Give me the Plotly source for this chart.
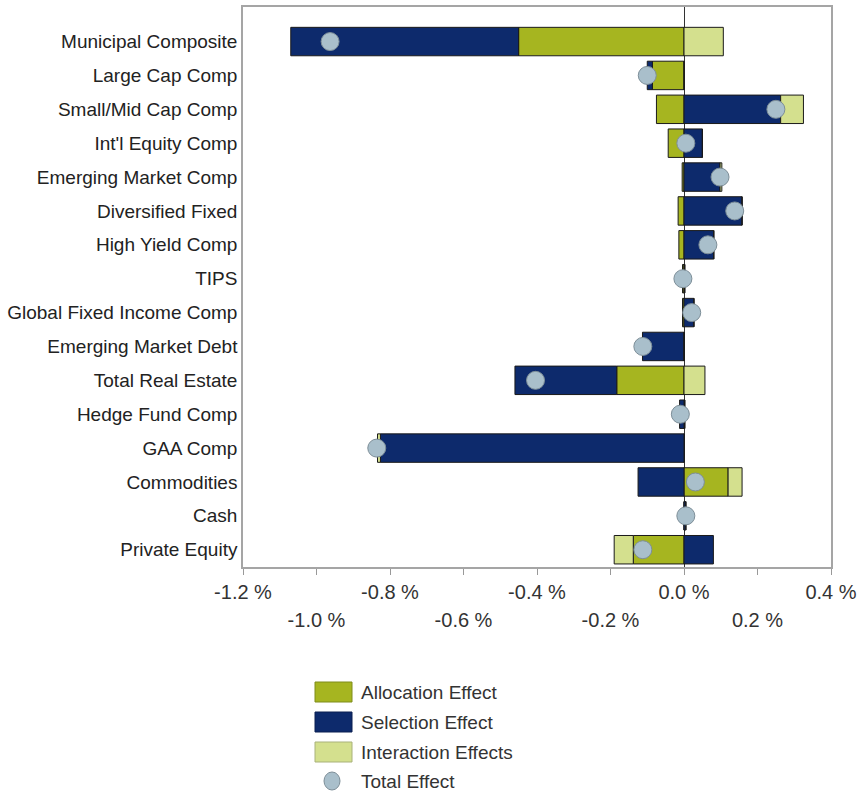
import plotly.graph_objects as go

categories = ["Municipal Composite", "Large Cap Comp", "Small/Mid Cap Comp", "Int'l Equity Comp",
              "Emerging Market Comp", "Diversified Fixed", "High Yield Comp", "TIPS",
              "Global Fixed Income Comp", "Emerging Market Debt", "Total Real Estate",
              "Hedge Fund Comp", "GAA Comp", "Commodities", "Cash", "Private Equity"]

allocation = [-0.450, -0.086, -0.075, -0.043, -0.005, -0.016, -0.014, -0.004,
              -0.004, 0.000, -0.183, 0.002, 0.000, 0.120, 0.000, -0.138]
selection = [-0.620, -0.014, 0.263, 0.050, 0.098, 0.158, 0.081, 0.002,
             0.027, -0.113, -0.277, -0.012, -0.826, -0.125, 0.005, 0.080]
interaction = [0.107, 0.000, 0.062, 0.000, 0.005, 0.000, 0.000, 0.000,
               0.000, 0.000, 0.057, 0.000, -0.008, 0.038, 0.000, -0.052]
total = [-0.963, -0.100, 0.250, 0.005, 0.098, 0.138, 0.065, -0.003,
         0.021, -0.112, -0.404, -0.010, -0.836, 0.031, 0.005, -0.112]

tick_vals = [-1.2, -1.0, -0.8, -0.6, -0.4, -0.2, 0.0, 0.2, 0.4]
tick_text = ["-1.2 %", "-1.0 %", "-0.8 %", "-0.6 %", "-0.4 %", "-0.2 %", "0.0 %", "0.2 %", "0.4 %"]

series_names = ["Allocation Effect", "Selection Effect", "Interaction Effects"]
total_name = "Total Effect"

colors = {"Allocation Effect": "#A6B520", "Selection Effect": "#0D2A6C", "Interaction Effects": "#D4E08E"}
border_colors = {"Allocation Effect": "#7F8C1A", "Selection Effect": "#0A1F50", "Interaction Effects": "#A9B27A"}
marker_fill = "#A9BFCB"
marker_line = "#7D8E98"

W, H = 858, 793
ML, MR, MT, MB = 243, 27, 7, 226
PW, PH = W - ML - MR, H - MT - MB

fig = go.Figure()
for name, vals in zip(series_names, [allocation, selection, interaction]):
    fig.add_trace(go.Bar(
        name=name, y=categories, x=vals, orientation="h",
        marker=dict(color=colors[name], line=dict(color="#1A1A1A", width=1)),
        showlegend=False,
    ))

fig.add_trace(go.Scatter(
    name=total_name, x=total, y=categories, mode="markers",
    xaxis="x2", yaxis="y",
    marker=dict(symbol="circle", size=18, color=marker_fill, line=dict(color=marker_line, width=1)),
    showlegend=False,
))

even_vals = tick_vals[0::2]
odd_vals = tick_vals[1::2]
odd_text = tick_text[1::2]

font_family = "Arial, Liberation Sans, sans-serif"

fig.update_layout(
    width=W, height=H,
    margin=dict(l=ML, r=MR, t=MT, b=MB, autoexpand=False),
    paper_bgcolor="white", plot_bgcolor="white",
    barmode="relative", bargap=0.16,
    showlegend=False,
    font=dict(family=font_family, size=19, color="#333333"),
    xaxis=dict(
        range=[-1.2, 0.4], tickvals=tick_vals,
        ticktext=[t if v in even_vals else "" for v, t in zip(tick_vals, tick_text)],
        ticks="outside", ticklen=6, tickcolor="#999999", tickwidth=1,
        showline=True, linecolor="#A5A5A5", linewidth=1.5, mirror=True,
        showgrid=False, zeroline=True, zerolinecolor="#333333", zerolinewidth=1,
        tickfont=dict(size=20, color="#333333"),
        ticklabeloverflow="allow", automargin=False,
    ),
    xaxis2=dict(
        overlaying="x", anchor="y", side="bottom",
        range=[-1.2, 0.4], tickvals=odd_vals, ticktext=odd_text,
        ticks="", showline=False, showgrid=False, zeroline=False,
        ticklabelstandoff=39,
        tickfont=dict(size=20, color="#333333"),
        ticklabeloverflow="allow", automargin=False,
    ),
    yaxis=dict(
        categoryorder="array", categoryarray=list(reversed(categories)),
        range=[-0.51, 16.02],
        showline=True, linecolor="#A5A5A5", linewidth=1.5, mirror=True,
        ticks="", showgrid=False, zeroline=False,
        tickfont=dict(size=19, color="#222222"),
        automargin=False,
    ),
)

def paper_x(px):
    return (px - ML) / PW

def paper_y(py):
    return (H - MB - py) / PH

legend_rows = [692, 722, 752, 781]
sw_left, sw_right, sw_half = 315, 352, 10
shapes = []
annotations = []
for i, name in enumerate(series_names):
    cy = legend_rows[i]
    shapes.append(dict(type="rect", xref="paper", yref="paper",
                       x0=paper_x(sw_left), x1=paper_x(sw_right),
                       y0=paper_y(cy + sw_half), y1=paper_y(cy - sw_half),
                       fillcolor=colors[name], line=dict(color=border_colors[name], width=1)))
cy = legend_rows[3]
shapes.append(dict(type="circle", xref="paper", yref="paper",
                   x0=paper_x(324), x1=paper_x(340),
                   y0=paper_y(cy + 9), y1=paper_y(cy - 9),
                   fillcolor=marker_fill, line=dict(color=marker_line, width=1)))
for i, label in enumerate(series_names + [total_name]):
    annotations.append(dict(text=label, xref="paper", yref="paper",
                            x=paper_x(359), y=paper_y(legend_rows[i]),
                            xanchor="left", yanchor="middle", showarrow=False,
                            font=dict(size=19, color="#333333", family=font_family)))

fig.update_layout(shapes=shapes, annotations=annotations)

fig.write_html("out.html", config={"displayModeBar": False},
               post_script="document.body.style.margin='0px';document.body.style.overflow='hidden';")
